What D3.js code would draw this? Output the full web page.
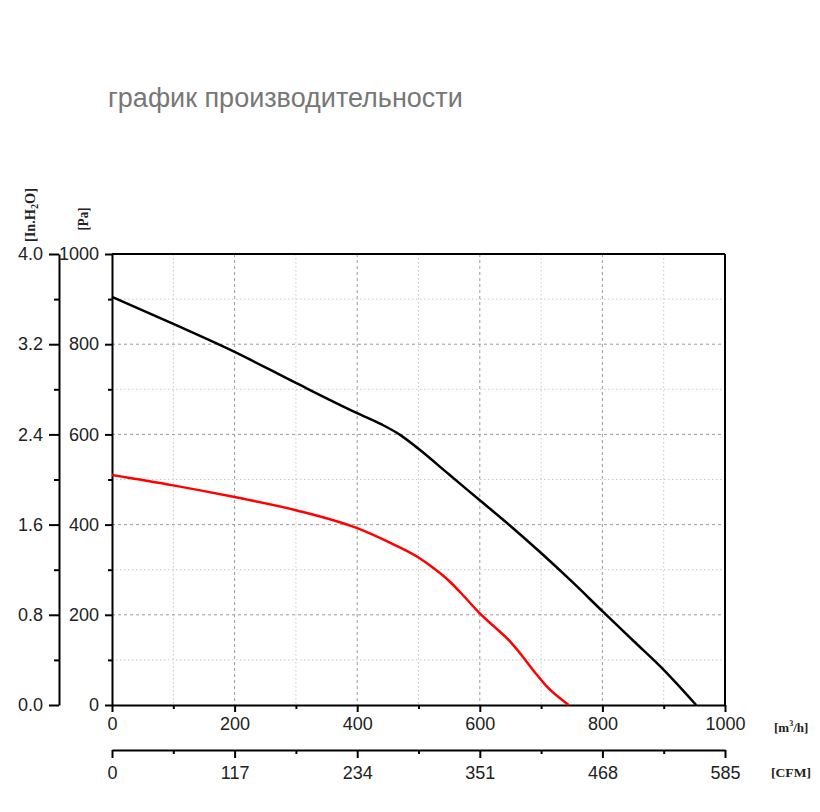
<!DOCTYPE html>
<html><head><meta charset="utf-8">
<script src="https://cdn.jsdelivr.net/npm/d3@7"></script>
<style>body{margin:0;background:#fff}svg{display:block}</style>
</head><body>
<svg id="c" width="820" height="812"></svg>
<script>
const title = "график производительности";
const paTicks = [0,200,400,600,800,1000];
const inh2oLabels = ["0.0","0.8","1.6","2.4","3.2","4.0"];
const flowTicks = [0,200,400,600,800,1000];
const cfmLabels = ["0","117","234","351","468","585"];
const blackFlow = [0,100,200,300,400,440,470,500,550,600,650,700,750,800,850,900,953];
const blackPa   = [905,845,783,714,647,622,599,568,511,454,397,337,274,208,143,78,0];
const redFlow = [0,100,200,300,400,450,500,525,550,575,600,625,650,665,690,710,745];
const redPa   = [510,487,461,432,392,362,327,303,275,240,203,172,140,116,72,40,0];

const svg = d3.select("#c");
const L=112,R=725,T=254,B=705;
const x = d3.scaleLinear().domain([0,1000]).range([L,R]);
const y = d3.scaleLinear().domain([0,1000]).range([B,T]);
const font = "'Liberation Sans', Arial, sans-serif";

svg.append("text").attr("x",108).attr("y",107).attr("font-family",font)
  .attr("font-size",27).attr("fill","#777").text(title);

// grid
const minors = d3.range(100,1000,200);
const g = svg.append("g");
minors.forEach(v=>{
  g.append("line").attr("x1",x(v)).attr("x2",x(v)).attr("y1",T).attr("y2",B).attr("stroke","#c8c8c8").attr("stroke-dasharray","1.5,2.5");
  g.append("line").attr("y1",y(v)).attr("y2",y(v)).attr("x1",L).attr("x2",R).attr("stroke","#c8c8c8").attr("stroke-dasharray","1.5,2.5");
});
paTicks.slice(1,-1).forEach(v=>{
  g.append("line").attr("x1",x(v)).attr("x2",x(v)).attr("y1",T).attr("y2",B).attr("stroke","#9a9a9a").attr("stroke-dasharray","3,3");
  g.append("line").attr("y1",y(v)).attr("y2",y(v)).attr("x1",L).attr("x2",R).attr("stroke","#9a9a9a").attr("stroke-dasharray","3,3");
});

// frame top/right
svg.append("line").attr("x1",L).attr("x2",R).attr("y1",T).attr("y2",T).attr("stroke","#000").attr("stroke-width",2);
svg.append("line").attr("x1",R).attr("x2",R).attr("y1",T).attr("y2",B).attr("stroke","#000").attr("stroke-width",2);

function styleAxis(sel){
  sel.select(".domain").attr("stroke","#000").attr("stroke-width",2);
  sel.selectAll(".tick line").attr("stroke","#000").attr("stroke-width",2);
  sel.selectAll("text").attr("font-family",font).attr("font-size",18).attr("fill","#222");
}
function minorAxis(axis, tx, ty){
  const a = svg.append("g").attr("transform",`translate(${tx},${ty})`).call(axis);
  a.select(".domain").remove(); a.selectAll("text").remove();
  a.selectAll(".tick line").attr("stroke","#000").attr("stroke-width",2);
}
const fmt = d3.format("d");

// Pa axis
minorAxis(d3.axisLeft(y).tickValues(minors).tickSize(4).tickFormat(""),L,0);
const ay = svg.append("g").attr("transform",`translate(${L},0)`)
  .call(d3.axisLeft(y).tickValues(paTicks).tickSizeInner(7).tickSizeOuter(0).tickPadding(6).tickFormat(fmt));
styleAxis(ay);

// In.H2O axis
const LA=59;
minorAxis(d3.axisLeft(y).tickValues(minors).tickSize(5).tickFormat(""),LA,0);
const ay2 = svg.append("g").attr("transform",`translate(${LA},0)`)
  .call(d3.axisLeft(y).tickValues(paTicks).tickSizeInner(10).tickSizeOuter(0).tickPadding(6).tickFormat((d,i)=>inh2oLabels[i]));
styleAxis(ay2);

// flow axis
minorAxis(d3.axisBottom(x).tickValues(minors).tickSize(4).tickFormat(""),0,B);
const ax = svg.append("g").attr("transform",`translate(0,${B})`)
  .call(d3.axisBottom(x).tickValues(flowTicks).tickSizeInner(7).tickSizeOuter(0).tickPadding(5).tickFormat(fmt));
styleAxis(ax);

// CFM axis
const CB=750;
minorAxis(d3.axisBottom(x).tickValues(minors).tickSize(4).tickFormat(""),0,CB);
const ax2 = svg.append("g").attr("transform",`translate(0,${CB})`)
  .call(d3.axisBottom(x).tickValues(flowTicks).tickSizeInner(8).tickSizeOuter(0).tickPadding(8).tickFormat((d,i)=>cfmLabels[i]));
styleAxis(ax2);

// curves
const line = d3.line().x(d=>x(d[0])).y(d=>y(d[1])).curve(d3.curveMonotoneX);
svg.append("path").datum(blackFlow.map((f,i)=>[f,blackPa[i]])).attr("d",line)
  .attr("fill","none").attr("stroke","#000").attr("stroke-width",2.5);
svg.append("path").datum(redFlow.map((f,i)=>[f,redPa[i]])).attr("d",line)
  .attr("fill","none").attr("stroke","#f00").attr("stroke-width",2.5);

// unit labels
const serif = "'Liberation Serif','Times New Roman',serif";
const u1 = svg.append("text").attr("transform","translate(35,215) rotate(-90)").attr("text-anchor","middle")
  .attr("font-family",serif).attr("font-weight","bold").attr("font-size",14).attr("fill","#222")
  .attr("textLength",54).attr("lengthAdjust","spacingAndGlyphs");
u1.append("tspan").text("[In.H");
u1.append("tspan").attr("font-size",10).attr("dy",3).text("2");
u1.append("tspan").attr("dy",-3).text("O]");
svg.append("text").attr("transform","translate(88,219) rotate(-90)").attr("text-anchor","middle")
  .attr("font-family",serif).attr("font-weight","bold").attr("font-size",14).attr("fill","#222")
  .attr("textLength",23).attr("lengthAdjust","spacingAndGlyphs").text("[Pa]");
const u3 = svg.append("text").attr("x",774).attr("y",732)
  .attr("font-family",serif).attr("font-weight","bold").attr("font-size",13).attr("fill","#222");
u3.append("tspan").text("[m");
u3.append("tspan").attr("font-size",8).attr("dy",-6).text("3");
u3.append("tspan").attr("dy",6).text("/h]");
svg.append("text").attr("x",771).attr("y",777)
  .attr("font-family",serif).attr("font-weight","bold").attr("font-size",13).attr("fill","#222")
  .attr("textLength",40).attr("lengthAdjust","spacingAndGlyphs").text("[CFM]");
</script>
</body></html>
